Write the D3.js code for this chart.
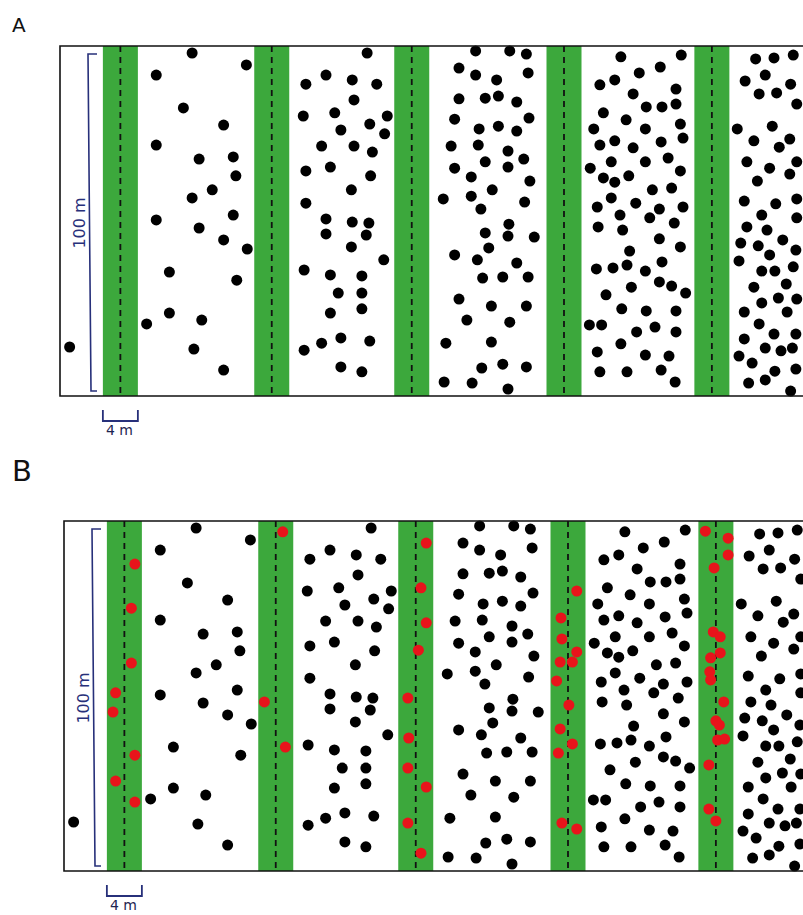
<!DOCTYPE html>
<html>
<head>
<meta charset="utf-8">
<script src="https://cdn.jsdelivr.net/npm/d3@7"></script>
<style>
  body { margin: 0; background: #fff; }
  text { font-family: "DejaVu Sans", Verdana, sans-serif; }
</style>
</head>
<body>
<div id="chart"></div>
<script>
// strip (corridor) centres along the transect, metres
const stripCentres = [6.9, 24.2, 40.2, 57.6, 74.5];
const stripWidth = 4;

// adult trees [x m, y m] - same in both panels
const trees = [
  // field 1
  [1.1,86.0],[15.1,2.0],[21.3,5.4],[11.0,8.3],[14.1,17.7],[18.7,22.6],[11.0,28.3],[15.9,32.3],[19.8,31.7],[20.1,37.1],
  [17.4,41.1],[15.1,43.4],[19.8,48.3],[11.0,49.7],[15.9,52.0],[18.7,55.4],[21.4,58.0],[12.5,64.6],[20.2,66.9],[12.5,76.3],
  [9.9,79.4],[16.2,78.3],[15.3,86.6],[18.7,92.6],
  // field 2
  [35.1,2.0],[30.4,8.3],[28.1,10.9],[33.4,9.7],[36.2,10.9],[33.6,15.4],[27.8,20.0],[31.4,19.1],[37.4,20.0],[35.4,22.3],
  [32.1,24.0],[37.1,25.1],[29.9,28.6],[33.6,28.6],[35.7,30.3],[28.1,35.7],[30.9,34.6],[35.5,37.1],[33.3,41.1],[28.1,44.9],
  [30.4,49.4],[33.4,50.3],[35.3,50.6],[30.4,53.7],[35.0,54.0],[33.3,57.4],[37.0,61.1],[27.9,64.0],[30.9,65.4],[34.5,65.7],
  [31.8,70.6],[34.5,70.6],[30.9,76.3],[34.5,75.1],[27.9,86.9],[29.9,84.9],[32.1,83.4],[35.4,84.3],[32.1,91.7],[34.5,93.1],
  // field 3
  [47.5,1.4],[51.4,1.4],[53.3,2.3],[45.6,6.3],[47.5,8.3],[49.9,9.7],[53.5,7.7],[45.6,15.1],[48.6,14.9],[50.1,14.3],
  [52.2,16.0],[45.1,20.9],[47.9,23.7],[50.1,22.9],[52.2,24.3],[53.6,20.6],[44.7,28.6],[47.8,28.3],[51.2,30.0],[45.1,34.9],
  [48.6,33.1],[51.2,34.6],[53.0,32.3],[47.0,37.4],[53.7,38.6],[43.8,43.7],[47.0,42.9],[49.4,41.1],[53.1,44.6],[48.1,46.6],
  [51.3,50.9],[48.6,53.4],[51.2,54.3],[54.2,54.6],[45.1,59.7],[49.0,57.7],[47.7,61.1],[52.2,62.0],[48.3,66.3],[50.6,66.0],
  [53.5,66.0],[45.6,72.3],[49.3,74.3],[53.3,74.3],[46.5,78.3],[51.4,78.9],[44.1,84.9],[49.3,84.6],[48.2,92.0],[50.6,90.9],
  [53.3,91.7],[43.9,96.0],[47.1,96.3],[51.2,98.0],
  // field 4
  [64.1,3.1],[61.7,11.1],[63.4,9.7],[66.2,7.7],[65.5,13.7],[62.1,19.1],[64.7,21.1],[61.0,23.7],[61.7,28.3],[63.4,27.1],
  [65.5,29.1],[60.6,34.9],[63.0,33.1],[62.1,37.7],[63.4,38.9],[65.0,37.1],[63.0,43.4],[61.4,46.0],[65.8,44.9],[64.0,48.3],
  [61.5,51.7],[64.3,52.6],[65.1,58.6],[61.3,63.7],[63.2,63.4],[64.8,62.6],[65.3,68.9],[62.4,71.1],[64.2,75.1],[60.5,79.7],
  [61.9,79.7],[65.9,81.7],[64.1,85.1],[61.4,87.4],[61.7,93.1],[64.8,93.1],
  [71.0,2.6],[68.6,6.0],[70.4,12.3],[67.0,17.4],[68.8,17.4],[70.4,16.6],[66.9,23.7],[70.9,22.3],[71.2,26.3],[68.7,27.4],
  [66.9,33.1],[69.5,32.0],[70.9,35.7],[67.7,41.1],[69.9,40.6],[68.5,46.6],[71.2,46.0],[67.4,49.1],[70.2,50.6],[68.5,55.1],
  [70.9,57.4],[68.8,61.7],[66.9,64.3],[68.5,67.4],[69.9,68.6],[71.5,70.6],[67.0,75.7],[70.4,75.7],[68.0,80.3],[70.4,81.7],
  [66.9,88.3],[69.6,88.6],[68.7,92.6],[70.3,96.0],
  // field 5
  [79.5,3.7],[81.6,3.4],[83.8,2.6],[80.6,8.3],[78.3,10.0],[83.5,10.9],[79.9,13.7],[81.9,13.4],[84.2,16.6],[77.4,23.7],
  [81.4,22.9],[79.3,27.1],[82.2,28.9],[83.4,26.6],[78.5,33.1],[81.1,34.9],[83.4,36.6],[84.2,33.1],[79.7,38.6],[78.2,44.3],
  [81.8,45.1],[84.2,43.7],[80.2,48.3],[84.2,49.1],[78.5,51.7],[80.8,52.6],[77.8,56.3],[79.8,57.1],[82.6,55.4],[81.1,59.7],
  [84.1,58.3],[77.6,61.4],[80.2,64.3],[81.7,64.3],[83.8,63.1],[79.3,68.9],[83.0,68.0],[80.2,73.4],[82.1,72.0],[84.2,72.3],
  [78.2,76.0],[83.1,76.0],[79.9,79.4],[81.6,82.3],[84.1,82.3],[78.2,83.7],[80.6,86.3],[82.4,87.1],[83.7,86.3],[77.6,88.6],
  [79.1,90.6],[81.7,92.9],[84.1,92.3],[78.7,96.3],[80.6,95.4],[83.5,98.6]
];

// points inside the strips, panel B only
const stripPoints = [
  [8.1,12.3],[7.7,24.9],[7.7,40.6],[5.9,49.1],[5.6,54.6],[8.1,66.9],[5.9,74.3],[8.1,80.3],
  [25.0,3.1],[22.9,51.7],[25.3,64.6],
  [41.4,6.3],[40.8,19.1],[41.4,29.1],[40.5,36.9],[39.3,50.6],[39.4,62.0],[39.3,70.6],[41.4,76.0],[39.3,86.3],[40.8,94.9],
  [58.6,20.0],[56.8,27.7],[56.9,33.7],[58.6,37.4],[56.7,40.3],[58.1,40.3],[56.3,45.7],[57.7,52.6],[56.7,59.4],[58.1,63.7],
  [56.5,66.3],[56.9,86.3],[58.6,88.0],
  [73.3,2.9],[75.9,4.9],[75.9,9.7],[74.3,13.4],[74.2,31.7],[75.0,33.1],[73.9,39.1],[75.0,37.7],[73.8,43.1],[73.9,45.4],
  [75.4,51.7],[74.5,57.1],[74.9,58.3],[74.7,62.6],[75.5,62.3],[73.7,69.7],[73.7,82.3],[74.5,85.7]
];

const W = 803, H = 915;
const boxH = 350;

const x = d3.scaleLinear().domain([0, 90]).range([0, 787.5]);
const y = d3.scaleLinear().domain([0, 100]).range([0, boxH]);

const svg = d3.select('#chart').append('svg')
  .attr('width', W).attr('height', H);

const panels = [
  { label: 'A', x0: 60, y0: 46, labelY: 32, labelSize: 20, red: false },
  { label: 'B', x0: 64, y0: 521, labelY: 481, labelSize: 29, red: true }
];

const navy = '#27307a';

panels.forEach(function(p) {
  svg.append('text')
    .attr('x', 12).attr('y', p.labelY)
    .attr('font-size', p.labelSize)
    .attr('fill', '#111')
    .text(p.label);

  const g = svg.append('g').attr('transform', `translate(${p.x0},${p.y0})`);

  // green strips
  g.selectAll('rect.strip')
    .data(stripCentres)
    .enter().append('rect')
    .attr('class', 'strip')
    .attr('x', d => x(d - stripWidth / 2))
    .attr('y', 0)
    .attr('width', x(stripWidth) - x(0))
    .attr('height', boxH)
    .attr('fill', '#3ca83c');

  // dashed centre lines
  g.selectAll('line.centre')
    .data(stripCentres)
    .enter().append('line')
    .attr('x1', d => x(d)).attr('x2', d => x(d))
    .attr('y1', 0).attr('y2', boxH)
    .attr('stroke', '#111')
    .attr('stroke-width', 1.8)
    .attr('stroke-dasharray', '6,5');

  g.selectAll('circle.tree')
    .data(trees)
    .enter().append('circle')
    .attr('cx', d => x(d[0]))
    .attr('cy', d => y(d[1]))
    .attr('r', 5.5)
    .attr('fill', '#000');

  if (p.red) {
    g.selectAll('circle.pt')
      .data(stripPoints)
      .enter().append('circle')
      .attr('cx', d => x(d[0]))
      .attr('cy', d => y(d[1]))
      .attr('r', 5.5)
      .attr('fill', '#e8141b');
  }

  // frame: left, top and bottom (runs off the right edge)
  g.append('path')
    .attr('d', `M${W},0H0V${boxH}H${W}`)
    .attr('fill', 'none')
    .attr('stroke', '#111')
    .attr('stroke-width', 1.6);

  // 100 m bracket
  g.append('path')
    .attr('d', `M37,8H28L31,345H37`)
    .attr('fill', 'none')
    .attr('stroke', navy)
    .attr('stroke-width', 1.6);
  g.append('text')
    .attr('transform', `translate(25,177) rotate(-90)`)
    .attr('text-anchor', 'middle')
    .attr('font-size', 16)
    .attr('fill', navy)
    .text('100 m');

  // 4 m scale bar under the first strip
  const sx0 = x(stripCentres[0] - stripWidth / 2), sx1 = x(stripCentres[0] + stripWidth / 2);
  g.append('path')
    .attr('d', `M${sx0},${boxH + 14}V${boxH + 25}H${sx1}V${boxH + 14}`)
    .attr('fill', 'none')
    .attr('stroke', navy)
    .attr('stroke-width', 1.8);
  g.append('text')
    .attr('x', (sx0 + sx1) / 2 - 1)
    .attr('y', boxH + 39)
    .attr('text-anchor', 'middle')
    .attr('font-size', 14)
    .attr('fill', '#1d2550')
    .text('4 m');
});
</script>
</body>
</html>
